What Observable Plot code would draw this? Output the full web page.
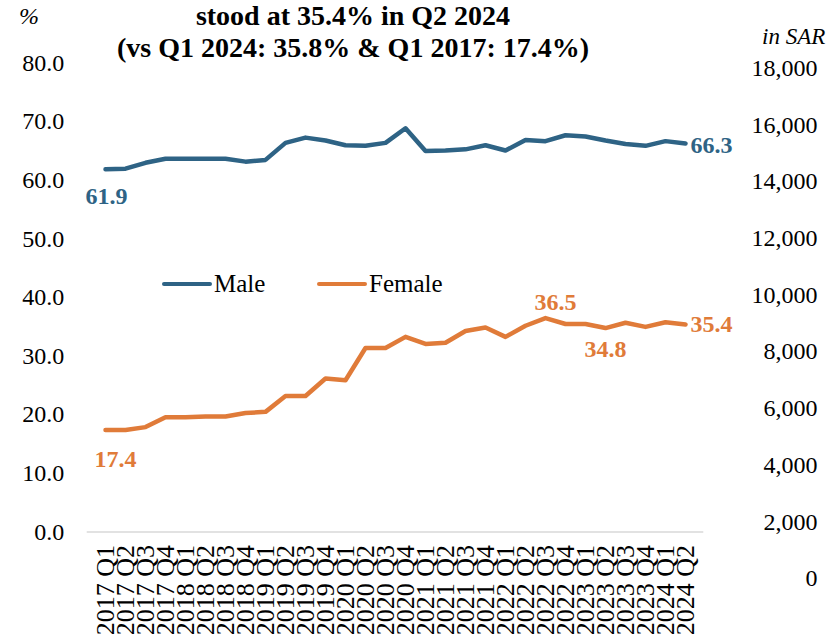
<!DOCTYPE html>
<html><head><meta charset="utf-8">
<script src="https://cdn.jsdelivr.net/npm/d3@7"></script>
<script src="https://cdn.jsdelivr.net/npm/@observablehq/plot@0.6"></script>
<style>
body{margin:0;background:#fff;}
#wrap{position:relative;width:830px;height:642px;overflow:hidden;background:#fff;font-family:"Liberation Serif","Times New Roman",serif;color:#000;}
#wrap > svg{position:absolute;left:0;top:0;}
#wrap svg text{font-family:"Liberation Serif","Times New Roman",serif;}
.t{position:absolute;white-space:nowrap;line-height:1;}
.title{font-weight:bold;font-size:28px;left:0;width:706px;text-align:center;}
.leg{position:absolute;top:270px;display:flex;align-items:center;font-size:25px;}
.leg span.sw{display:inline-block;width:50px;height:4px;border-radius:2px;margin-right:2px;}
</style></head><body>
<div id="wrap">
  <div class="t title" style="top:2px;">stood at 35.4% in Q2 2024</div>
  <div class="t title" style="top:34px;">(vs Q1 2024: 35.8% &amp; Q1 2017: 17.4%)</div>
  <div class="t" style="left:19px;top:4px;font-style:italic;font-size:24px;">%</div>
  <div class="t" style="left:762px;top:25px;font-style:italic;font-size:23px;">in SAR</div>
  <div class="leg" style="left:162px;"><span class="sw" style="background:#2E6385"></span>Male</div>
  <div class="leg" style="left:317px;"><span class="sw" style="background:#E07B39"></span>Female</div>
</div>
<script>
const quarters = ["2017 Q1","2017 Q2","2017 Q3","2017 Q4","2018 Q1","2018 Q2","2018 Q3","2018 Q4",
  "2019 Q1","2019 Q2","2019 Q3","2019 Q4","2020 Q1","2020 Q2","2020 Q3","2020 Q4",
  "2021 Q1","2021 Q2","2021 Q3","2021 Q4","2022 Q1","2022 Q2","2022 Q3","2022 Q4",
  "2023 Q1","2023 Q2","2023 Q3","2023 Q4","2024 Q1","2024 Q2"];
const male = [61.9,62.0,63.0,63.7,63.7,63.7,63.7,63.2,63.5,66.4,67.3,66.8,66.0,65.9,66.4,68.9,
  65.0,65.1,65.3,66.0,65.1,66.9,66.7,67.7,67.5,66.8,66.2,65.9,66.7,66.3];
const female = [17.4,17.4,17.9,19.6,19.6,19.7,19.7,20.3,20.5,23.2,23.2,26.2,25.9,31.4,31.4,33.3,
  32.1,32.3,34.3,34.9,33.3,35.2,36.5,35.5,35.5,34.8,35.7,35.0,35.8,35.4];
const leftTicks = [0,10,20,30,40,50,60,70,80];
const sarTicks = [0,2000,4000,6000,8000,10000,12000,14000,16000,18000];

const seriesNames = ["Male","Female"];
const colors = ["#2E6385","#E07B39"];
const rows = [];
quarters.forEach((q,i)=>{ rows.push({q, v:male[i], s:"Male", i}); });
quarters.forEach((q,i)=>{ rows.push({q, v:female[i], s:"Female", i}); });

// secondary (SAR) axis is placed on the primary % scale
const sar = d3.scaleLinear().domain([0,18000]).range([-7.94, -7.94 + 9*9.676]);
const FONT = "'Liberation Serif','Times New Roman',serif";

const pick = (s, i) => rows.filter(d => d.s === s && d.i === i);
const lab = (s, i, o) => Plot.text(pick(s,i), {x:"q", y:"v", text: d => d.v.toFixed(1),
  fill: colors[seriesNames.indexOf(s)], fontWeight:"bold", fontSize:24, fontFamily:FONT, ...o});

const chart = Plot.plot({
  width: 830, height: 642,
  marginTop: 62.7, marginBottom: 110.5, marginLeft: 86.7, marginRight: 126.7,
  style: {fontFamily: FONT, fontSize: "24px", color:"#000", background:"transparent"},
  x: {type:"point", domain: quarters, padding: 0.5, label:null},
  y: {domain:[0,80], label:null},
  color: {domain: seriesNames, range: colors},
  marks: [
    Plot.ruleY([0], {stroke:"#d9d9d9", strokeWidth:1.5}),
    Plot.axisY({ticks: leftTicks, tickFormat: d => d.toFixed(1), tickSize:0, tickPadding:23, fontSize:24, fontFamily:FONT, label:null}),
    Plot.axisY(sarTicks.map(s => sar(s)), {anchor:"right", tickSize:0, tickPadding:113.7, textAnchor:"end",
      tickFormat: d => d3.format(",")(Math.round(sar.invert(d))), fontSize:24, fontFamily:FONT, label:null}),
    Plot.axisX({tickRotate:-90, tickSize:0, tickPadding:13, fontSize:26, fontFamily:FONT, label:null}),
    Plot.line(rows, {x:"q", y:"v", z:"s", stroke:"s", strokeWidth:4.5, strokeLinejoin:"round", strokeLinecap:"round"}),
    lab("Male", 0, {dx:1, dy:27}),
    lab("Male", 29, {dx:5, dy:2, textAnchor:"start"}),
    lab("Female", 0, {dx:10, dy:29}),
    lab("Female", 22, {dx:10, dy:-16}),
    lab("Female", 25, {dx:0, dy:21}),
    lab("Female", 29, {dx:5, dy:0, textAnchor:"start"})
  ]
});
document.getElementById("wrap").prepend(chart);
</script>
</body></html>
